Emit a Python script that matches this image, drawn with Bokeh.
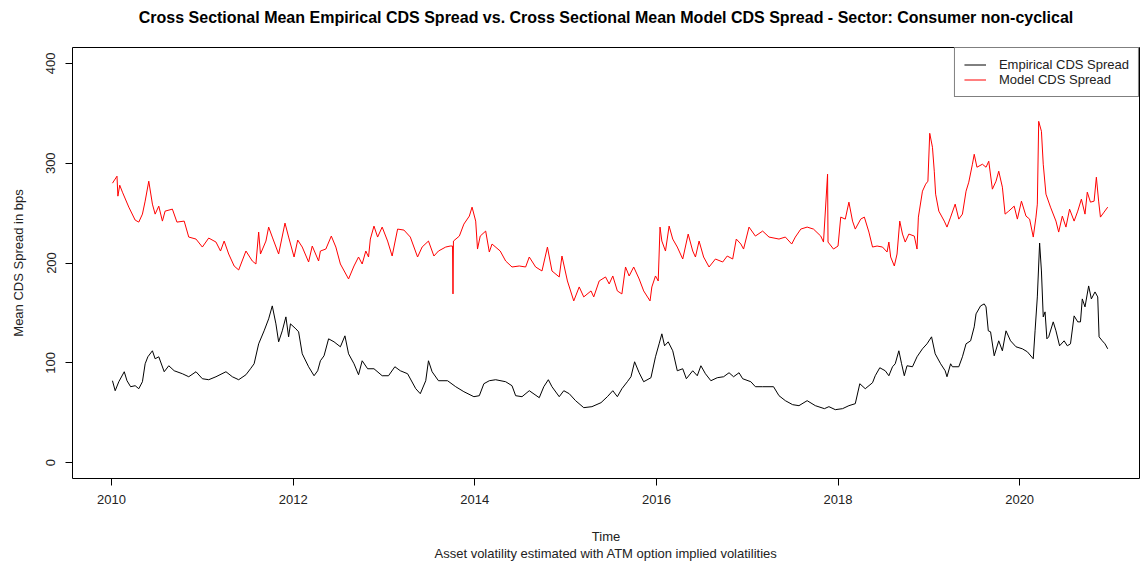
from bokeh.plotting import figure
from bokeh.models import Range1d, FixedTicker, Legend, LegendItem
from bokeh.embed import file_html
from bokeh.resources import INLINE

# Model CDS spread (red): (fractional year, bps)
model_t = [2010.01, 2010.06, 2010.07, 2010.09, 2010.12, 2010.19, 2010.26, 2010.30, 2010.34, 2010.37,
           2010.41, 2010.45, 2010.48, 2010.52, 2010.56, 2010.59, 2010.67, 2010.72, 2010.80, 2010.85,
           2010.93, 2011.00, 2011.07, 2011.15, 2011.20, 2011.24, 2011.29, 2011.35, 2011.40, 2011.48,
           2011.55, 2011.59, 2011.62, 2011.64, 2011.70, 2011.73, 2011.77, 2011.84, 2011.91, 2011.95,
           2012.01, 2012.05, 2012.10, 2012.17, 2012.21, 2012.28, 2012.30, 2012.36, 2012.42, 2012.47,
           2012.52, 2012.61, 2012.67, 2012.72, 2012.76, 2012.80, 2012.83, 2012.85, 2012.89, 2012.93,
           2012.98, 2013.04, 2013.09, 2013.15, 2013.22, 2013.29, 2013.37, 2013.42, 2013.49, 2013.55,
           2013.60, 2013.68, 2013.73, 2013.755, 2013.76, 2013.765, 2013.83, 2013.88, 2013.94, 2013.97,
           2014.01, 2014.03, 2014.06, 2014.12, 2014.16, 2014.19, 2014.28, 2014.34, 2014.41, 2014.49,
           2014.56, 2014.60, 2014.67, 2014.74, 2014.80, 2014.85, 2014.93, 2014.96, 2015.02, 2015.09,
           2015.15, 2015.20, 2015.28, 2015.31, 2015.37, 2015.44, 2015.48, 2015.52, 2015.57, 2015.62,
           2015.66, 2015.70, 2015.75, 2015.81, 2015.86, 2015.93, 2015.95, 2015.99, 2016.02, 2016.04,
           2016.06, 2016.10, 2016.14, 2016.18, 2016.23, 2016.29, 2016.35, 2016.40, 2016.43, 2016.47,
           2016.52, 2016.58, 2016.65, 2016.73, 2016.78, 2016.84, 2016.88, 2016.93, 2016.96, 2017.02,
           2017.09, 2017.17, 2017.24, 2017.35, 2017.42, 2017.49, 2017.53, 2017.59, 2017.66, 2017.73,
           2017.81, 2017.84, 2017.885, 2017.89, 2017.95, 2018.00, 2018.03, 2018.08, 2018.12, 2018.16,
           2018.19, 2018.25, 2018.29, 2018.34, 2018.38, 2018.43, 2018.49, 2018.54, 2018.56, 2018.58,
           2018.62, 2018.65, 2018.68, 2018.71, 2018.74, 2018.78, 2018.84, 2018.87, 2018.885, 2018.93,
           2018.965, 2018.99, 2019.01, 2019.04, 2019.06, 2019.075, 2019.11, 2019.17, 2019.20, 2019.24,
           2019.29, 2019.33, 2019.37, 2019.41, 2019.44, 2019.48, 2019.50, 2019.53, 2019.59, 2019.63,
           2019.66, 2019.70, 2019.74, 2019.77, 2019.81, 2019.84, 2019.88, 2019.94, 2019.975, 2020.02,
           2020.07, 2020.11, 2020.15, 2020.18, 2020.195, 2020.21, 2020.24, 2020.26, 2020.29, 2020.34,
           2020.40, 2020.43, 2020.47, 2020.51, 2020.55, 2020.60, 2020.64, 2020.68, 2020.72, 2020.745,
           2020.78, 2020.82, 2020.845, 2020.87, 2020.89, 2020.93, 2020.97]
model_v = [280, 287, 267, 278, 271, 256, 243, 241, 249, 262,
           282, 259, 249, 257, 242, 252, 254, 241, 242, 226,
           224, 216, 225, 221, 212, 222, 209, 197, 193, 212,
           202, 199, 231, 209, 222, 236, 226, 209, 240, 226,
           206, 223, 216, 201, 217, 202, 212, 214, 227, 216,
           199, 184, 197, 206, 199, 212, 206, 224, 237, 226,
           236, 222, 207, 234, 233, 226, 206, 216, 222, 207,
           212, 216, 217, 217, 169, 222, 227, 239, 247, 256,
           242, 214, 227, 232, 211, 219, 212, 202, 196, 197,
           196, 206, 196, 192, 216, 192, 186, 207, 182, 162,
           176, 166, 172, 166, 182, 186, 179, 187, 172, 169,
           196, 187, 196, 184, 172, 162, 176, 187, 182, 236,
           222, 212, 237, 224, 216, 204, 229, 212, 206, 222,
           206, 196, 204, 201, 207, 204, 224, 219, 214, 236,
           227, 232, 226, 224, 226, 219, 226, 234, 236, 234,
           227, 221, 289, 221, 214, 217, 246, 244, 261, 242,
           234, 244, 246, 231, 216, 217, 216, 211, 221, 206,
           197, 209, 242, 229, 221, 229, 227, 214, 246, 272,
           279, 282, 330, 316, 292, 269, 252, 242, 236, 246,
           259, 244, 249, 272, 281, 299, 309, 296, 299, 296,
           302, 274, 282, 292, 276, 249, 252, 257, 244, 262,
           247, 244, 226, 246, 259, 342, 332, 299, 269, 256,
           242, 231, 247, 236, 254, 242, 252, 264, 249, 271,
           261, 262, 286, 262, 246, 251, 256]

# Empirical CDS spread (black)
emp_t = [2010.01, 2010.04, 2010.08, 2010.14, 2010.17, 2010.21, 2010.26, 2010.30, 2010.34, 2010.37,
         2010.40, 2010.45, 2010.48, 2010.52, 2010.58, 2010.63, 2010.69, 2010.78, 2010.85, 2010.93,
         2011.00, 2011.07, 2011.15, 2011.26, 2011.33, 2011.40, 2011.48, 2011.53, 2011.57, 2011.62,
         2011.68, 2011.73, 2011.77, 2011.81, 2011.84, 2011.88, 2011.92, 2011.95, 2011.97, 2012.03,
         2012.06, 2012.10, 2012.17, 2012.23, 2012.27, 2012.30, 2012.34, 2012.39, 2012.45, 2012.52,
         2012.57, 2012.61, 2012.67, 2012.72, 2012.76, 2012.82, 2012.89, 2012.98, 2013.05, 2013.12,
         2013.18, 2013.26, 2013.35, 2013.40, 2013.46, 2013.49, 2013.53, 2013.60, 2013.70, 2013.79,
         2013.88, 2013.99, 2014.05, 2014.10, 2014.16, 2014.23, 2014.34, 2014.41, 2014.45, 2014.52,
         2014.60, 2014.71, 2014.76, 2014.81, 2014.85, 2014.93, 2014.98, 2015.04, 2015.11, 2015.20,
         2015.29, 2015.39, 2015.46, 2015.52, 2015.57, 2015.62, 2015.68, 2015.72, 2015.76, 2015.81,
         2015.86, 2015.94, 2015.99, 2016.03, 2016.06, 2016.09, 2016.13, 2016.18, 2016.23, 2016.29,
         2016.33, 2016.40, 2016.45, 2016.49, 2016.54, 2016.60, 2016.67, 2016.74, 2016.80, 2016.85,
         2016.91, 2016.95, 2017.04, 2017.09, 2017.17, 2017.24, 2017.29, 2017.35, 2017.42, 2017.50,
         2017.57, 2017.66, 2017.75, 2017.85, 2017.90, 2017.97, 2018.05, 2018.12, 2018.19, 2018.24,
         2018.30, 2018.38, 2018.41, 2018.46, 2018.52, 2018.56, 2018.60, 2018.63, 2018.67, 2018.70,
         2018.73, 2018.76, 2018.82, 2018.87, 2018.93, 2018.98, 2019.03, 2019.07, 2019.13, 2019.18,
         2019.20, 2019.24, 2019.26, 2019.33, 2019.37, 2019.41, 2019.46, 2019.50, 2019.52, 2019.57,
         2019.61, 2019.63, 2019.655, 2019.68, 2019.72, 2019.77, 2019.81, 2019.85, 2019.90, 2019.96,
         2020.03, 2020.085, 2020.15, 2020.17, 2020.195, 2020.22, 2020.24, 2020.26, 2020.28, 2020.30,
         2020.32, 2020.37, 2020.40, 2020.44, 2020.49, 2020.525, 2020.56, 2020.60, 2020.64, 2020.67,
         2020.69, 2020.72, 2020.76, 2020.79, 2020.83, 2020.86, 2020.875, 2020.91, 2020.94, 2020.97]
emp_v = [82, 72, 81, 91, 82, 76, 77, 74, 81, 99,
         106, 112, 104, 106, 91, 97, 92, 89, 86, 91,
         84, 83, 86, 91, 86, 83, 88, 94, 99, 119,
         132, 144, 157, 139, 121, 132, 146, 126, 139, 134,
         131, 109, 96, 87, 92, 102, 107, 124, 121, 116,
         127, 109, 99, 88, 102, 94, 94, 87, 87, 96,
         92, 89, 74, 69, 82, 102, 91, 82, 82, 76,
         71, 66, 67, 79, 82, 83, 81, 77, 67, 66,
         72, 65, 76, 83, 76, 66, 72, 69, 62, 55,
         56, 60, 66, 72, 66, 74, 81, 86, 101, 90,
         81, 85, 106, 119, 129, 117, 121, 112, 92, 94,
         84, 92, 87, 97, 89, 82, 85, 86, 90, 86,
         90, 84, 81, 76, 76, 76, 76, 67, 62, 58,
         57, 62, 57, 54, 56, 53, 54, 57, 59, 79,
         74, 80, 87, 95, 92, 87, 96, 99, 112, 99,
         87, 97, 96, 106, 114, 119, 126, 109, 99, 92,
         86, 99, 96, 96, 106, 119, 122, 136, 149, 157,
         159, 156, 132, 131, 107, 122, 112, 132, 122, 116,
         114, 111, 104, 132, 166, 220, 192, 146, 151, 124,
         126, 141, 132, 117, 122, 117, 119, 147, 141, 141,
         164, 156, 177, 164, 171, 166, 126, 122, 119, 114]

x_ticks = [2010, 2012, 2014, 2016, 2018, 2020]
y_ticks = [0, 100, 200, 300, 400]

FONT = "Liberation Sans"

p = figure(width=1147, height=563, output_backend="svg", toolbar_location=None,
           x_range=Range1d(2009.57, 2021.32), y_range=Range1d(-16, 416),
           min_border_left=72, min_border_right=8, min_border_top=47, min_border_bottom=84)

# second (blank) line only reserves space so the title sits high above the frame, as in R
p.title.text = ("Cross Sectional Mean Empirical CDS Spread vs. Cross Sectional Mean Model CDS Spread"
                " - Sector: Consumer non-cyclical\n ")
p.title.align = "center"
p.title.vertical_align = "top"
p.title.text_font = FONT
p.title.text_font_size = "16px"
p.title.text_font_style = "bold"
p.title.text_color = "black"
p.title.standoff = 6

p.xgrid.visible = False
p.ygrid.visible = False
p.outline_line_color = "black"
p.outline_line_width = 1
p.background_fill_color = "white"
p.border_fill_color = "white"

for ax in (p.xaxis[0], p.yaxis[0]):
    ax.axis_line_color = None
    ax.major_tick_in = 0
    ax.major_tick_out = 7
    ax.major_tick_line_color = "black"
    ax.minor_tick_line_color = None
    ax.major_label_text_font = FONT
    ax.major_label_text_font_size = "13px"
    ax.major_label_text_color = "#222222"
    ax.axis_label_text_font = FONT
    ax.axis_label_text_font_size = "13px"
    ax.axis_label_text_font_style = "normal"
    ax.axis_label_text_color = "#222222"

p.xaxis.ticker = FixedTicker(ticks=x_ticks)
p.yaxis.ticker = FixedTicker(ticks=y_ticks)
p.yaxis.major_label_orientation = "vertical"
p.xaxis.major_label_standoff = 9
p.yaxis.major_label_standoff = 10
p.xaxis.axis_label = "Time\nAsset volatility estimated with ATM option implied volatilities"
p.xaxis.axis_label_standoff = 22
p.xaxis.axis_label_text_line_height = 1.15
p.yaxis.axis_label = "Mean CDS Spread in bps"
p.yaxis.axis_label_standoff = 18

r_emp = p.line(emp_t, emp_v, line_color="black", line_width=1)
r_mod = p.line(model_t, model_v, line_color="#FF0000", line_width=1)

legend = Legend(items=[LegendItem(label="Empirical CDS Spread", renderers=[r_emp]),
                       LegendItem(label="Model CDS Spread", renderers=[r_mod])],
                location="top_right", margin=0, padding=9, spacing=0,
                label_height=15, glyph_height=15, glyph_width=22, label_standoff=13,
                label_text_font=FONT, label_text_font_size="13px", label_text_color="#222222",
                border_line_color="black", border_line_width=1, background_fill_alpha=1)
p.add_layout(legend)

open("out.html", "w").write(file_html(p, INLINE))
